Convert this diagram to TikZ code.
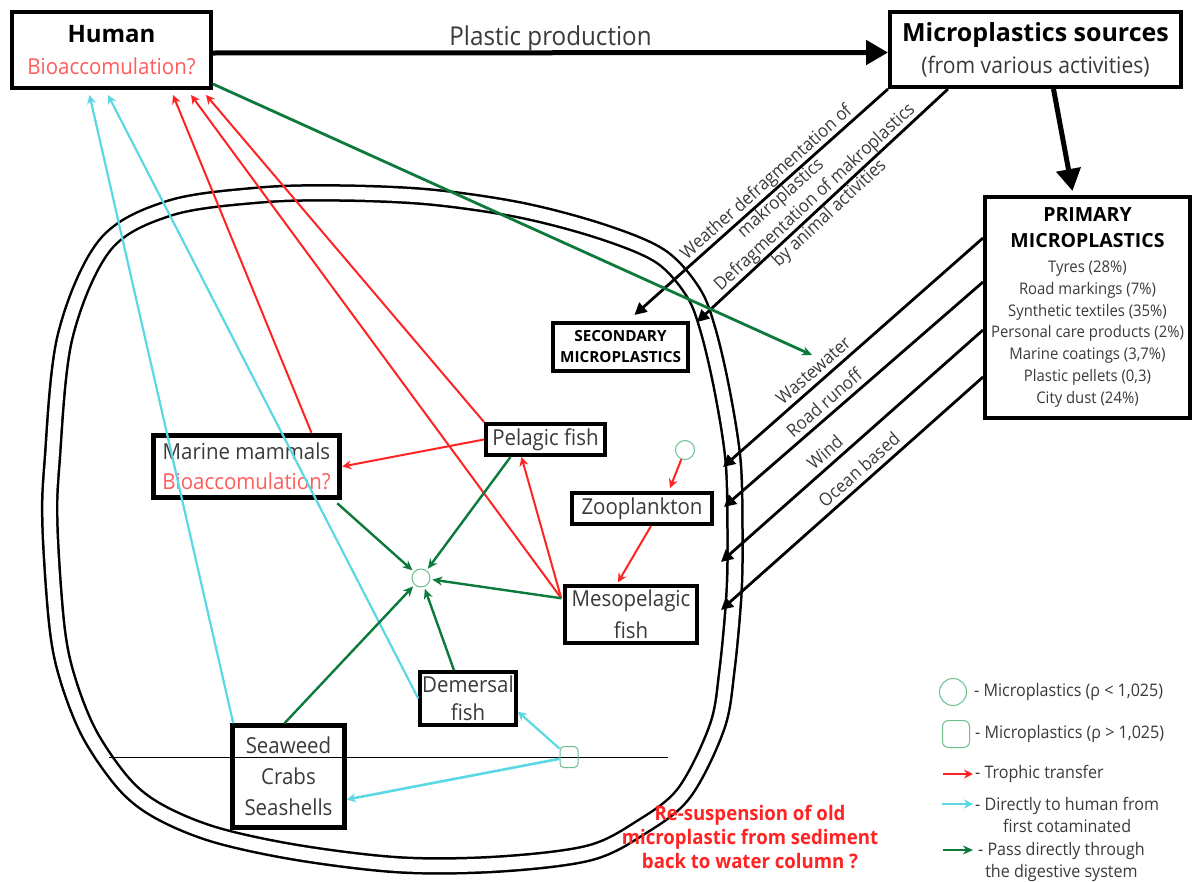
\documentclass[tikz,border=0pt]{standalone}
\usepackage{fontspec}
\setmainfont{Open Sans}
\newfontfamily\lightfont[FakeStretch=0.93]{Open Sans}
\usepackage{tikz}
\usetikzlibrary{arrows.meta}
\usetikzlibrary{positioning}
\usetikzlibrary{calc}

\definecolor{txtgray}{HTML}{3A3A3A}
\definecolor{biored}{HTML}{FF5C5C}
\definecolor{troph}{HTML}{FF2424}
\definecolor{direct}{HTML}{5CD8E5}
\definecolor{digest}{HTML}{0C7A3A}
\definecolor{mpgreen}{HTML}{6DBE8F}

\tikzstyle{mainbox} = [draw, line width=4pt, align=center, inner sep=0pt]
\tikzstyle{seabox} = [draw, line width=4pt, align=center, inner sep=0pt, text=txtgray, font=\lightfont\fontsize{22}{30}\selectfont]
\tikzstyle{bigarrow} = [line width=5pt, -{Triangle[length=22pt,width=24pt]}]
\tikzstyle{srcarrow} = [line width=2.8pt, -{Triangle[length=12pt,width=12pt]}]
\tikzstyle{troparrow} = [troph, line width=2pt, -{Stealth[length=9pt,width=9pt]}]
\tikzstyle{humarrow} = [direct, line width=2.2pt, -{Stealth[length=9pt,width=9pt]}]
\tikzstyle{digarrow} = [digest, line width=2.4pt, -{Stealth[length=10pt,width=9pt]}]
\tikzstyle{slopelabel} = [sloped, text=txtgray, inner sep=1pt, font=\lightfont\fontsize{18}{21.5}\selectfont]
\tikzstyle{mpcircle} = [circle, draw=mpgreen, line width=1pt, inner sep=0pt]
\tikzstyle{mpoct} = [rectangle, draw=mpgreen, line width=1pt, inner sep=0pt]
\tikzstyle{legend} = [text=txtgray, inner sep=1pt, font=\lightfont\fontsize{17.3}{22}\selectfont]

\begin{document}
\begin{tikzpicture}[x=1pt,y=-1pt]

	\path[use as bounding box, fill=white] (0,0) rectangle (1194,881);

	% Sea
	\draw[line width=2.5pt, double, double distance=12.5pt] plot[smooth cycle, tension=0.55] coordinates {
		(50,527) (52,463) (65,337) (105,245) (170,208) (260,195) (340,193) (430,197)
		(520,210) (600,231) (660,256) (693,292) (708,330) (722,390) (733,460) (735,530)
		(734,593) (727,670) (717,727) (684,793) (640,828) (589,853) (500,864) (402,865)
		(300,853) (216,835) (160,812) (125,785) (90,735) (68,680) (57,627)};
	\coordinate (sed1) at (109,757);
	\coordinate (sed2) at (668,757);
	\draw[line width=1pt] (sed1) -- (sed2);

	% Top boxes
	\node[mainbox, minimum width=199pt, minimum height=76pt, font=\fontsize{24}{32}\selectfont] (human) at (111.5,50)
	{\textbf{Human}\\{\lightfont\fontsize{22}{32}\selectfont\color{biored}Bioaccomulation?}};
	\node[mainbox, minimum width=291pt, minimum height=75pt, font=\fontsize{25}{32}\selectfont] (sources) at (1035.5,49.5)
	{\textbf{Microplastics sources}\\{\lightfont\fontsize{22.7}{32}\selectfont\color{txtgray}(from various activities)}};
	\node[mainbox, minimum width=205pt, minimum height=221pt, text=txtgray, font=\lightfont\fontsize{16}{21.8}\selectfont] (primary) at (1087.5,307.5)
	{{\normalfont\bfseries\fontsize{19.5}{22}\selectfont\color{black}PRIMARY}\\[4pt]
	{\normalfont\bfseries\fontsize{19.5}{22}\selectfont\color{black}MICROPLASTICS}\\[3pt]
	Tyres (28\%)\\Road markings (7\%)\\Synthetic textiles (35\%)\\Personal care products (2\%)\\
	Marine coatings (3,7\%)\\Plastic pellets (0,3)\\City dust (24\%)};
	\node[mainbox, minimum width=135pt, minimum height=48pt, font=\bfseries\fontsize{15.3}{21}\selectfont] (secondary) at (620.5,347)
	{SECONDARY\\MICROPLASTICS};

	% Sea boxes
	\node[seabox, line width=5.5pt, minimum width=186pt, minimum height=62pt] (mammals) at (246.5,466.5)
	{Marine mammals\\{\color{biored}Bioaccomulation?}};
	\node[seabox, minimum width=119pt, minimum height=31pt] (pelagic) at (545.5,439.5) {Pelagic fish};
	\node[seabox, minimum width=140pt, minimum height=31pt] (zoo) at (642,508.5) {Zooplankton};
	\node[seabox, line width=3.5pt, minimum width=132pt, minimum height=57pt, font=\lightfont\fontsize{22}{32}\selectfont] (meso) at (631,614.5)
	{Mesopelagic\\fish};
	\node[seabox, line width=3.5pt, minimum width=96pt, minimum height=53pt, font=\lightfont\fontsize{22}{28}\selectfont] (demersal) at (468,698.5)
	{Demersal\\fish};
	\node[seabox, line width=4.5pt, minimum width=112pt, minimum height=102pt, font=\lightfont\fontsize{22}{31}\selectfont] (seaweed) at (288.5,776.5)
	{Seaweed\\Crabs\\Seashells};

	% Microplastics
	\node[mpcircle, minimum size=18pt] (mp) at (421,578) {};
	\node[mpcircle, minimum size=19pt] (mptop) at (685,450) {};
	\node[mpoct, rounded corners=4pt, minimum width=18pt, minimum height=21pt] (oct) at (569,757) {};

	% Production
	\draw[bigarrow] ($(human.east)+(0,3)$) -- node[above=-2pt, text=txtgray, inner sep=1pt, font=\lightfont\fontsize{26}{30}\selectfont] (prodlabel) {Plastic production} ($(sources.west)+(0,3)$);
	\draw[bigarrow] ($(sources.south)+(18,0)$) -- ($(primary.north)+(-15,-4)$);

	% Secondary microplastics
	\coordinate (oc1) at (697,322);
	\draw[srcarrow] (sources.south west) -- node[slopelabel, pos=0.45, align=center] {Weather defragmentation of\\makroplastics} ($(secondary.north)+(14,-6)$);
	\draw[srcarrow] ($(sources.south west)+(60,0)$) -- node[slopelabel, pos=0.5, align=center] {Defragmentation of makroplastics\\by animal activities} (oc1);

	% Primary microplastics
	\coordinate (oc2) at (723,467);
	\coordinate (oc3) at (724,507);
	\coordinate (oc4) at (721,562);
	\coordinate (oc5) at (721,610);
	\draw[srcarrow] ($(primary.west)+(0,-69.5)$) -- node[slopelabel, above=4pt, pos=0.62] {Wastewater} (oc2);
	\draw[srcarrow] ($(primary.west)+(0,-25.5)$) -- node[slopelabel, above=4pt, pos=0.58] {Road runoff} (oc3);
	\draw[srcarrow] ($(primary.west)+(0,22.5)$) -- node[slopelabel, above=4pt, pos=0.57] {Wind} (oc4);
	\draw[srcarrow] ($(primary.west)+(0,69.5)$) -- node[slopelabel, above=4pt, pos=0.44] {Ocean based} (oc5);

	% Human
	\coordinate (wwtip) at (812,355);
	\coordinate (hc1) at ($(human.south west)+(79.5,5)$);
	\coordinate (hc2) at ($(human.south west)+(98,5)$);
	\coordinate (hr1) at ($(human.south west)+(163,5)$);
	\coordinate (hr2) at ($(human.south west)+(181,5)$);
	\coordinate (hr3) at ($(human.south west)+(196,5)$);
	\coordinate (mesoa) at ($(meso.north west)+(-2,14)$);
	\draw[digarrow, line width=2.8pt] ($(human.south east)+(0,-6)$) -- (wwtip);
	\draw[humarrow] ($(seaweed.north west)+(3,0)$) -- (hc1);
	\draw[humarrow] (demersal.west) -- (hc2);
	\draw[troparrow] ($(mammals.north)+(65,0)$) -- (hr1);
	\draw[troparrow] (mesoa) -- (hr2);
	\draw[troparrow] (pelagic.north west) -- (hr3);

	% Trophic transfer
	\draw[troparrow] (pelagic.west) -- (mammals.east);
	\draw[troparrow] (mesoa) -- ($(pelagic.south)+(-24,0)$);
	\draw[troparrow] (mptop) -- ($(zoo.north)+(28,-3)$);
	\draw[troparrow] ($(zoo.south)+(9,0)$) -- ($(meso.north)+(-13,-2)$);

	% Digestive system
	\draw[digarrow, shorten >=2pt] ($(mammals.south east)+(-5,3)$) -- (mp);
	\draw[digarrow, shorten >=2pt] ($(pelagic.south)+(-35,0)$) -- (mp);
	\draw[digarrow, shorten >=2pt] (mesoa) -- (mp);
	\draw[digarrow, shorten >=2pt] ($(seaweed.north)+(-4,0)$) -- (mp);
	\draw[digarrow, shorten >=2pt] ($(demersal.north)+(-14,0)$) -- (mp);

	% Sediment
	\draw[humarrow] (oct) -- ($(demersal.east)+(0,13)$);
	\draw[humarrow, line width=2.6pt] (oct) -- ($(seaweed.east)+(0,23)$);
	\node[text=troph, align=center, font=\lightfont\bfseries\fontsize{20}{24}\selectfont] (resusp) at (750,837)
	{Re-suspension of old\\microplastic from sediment\\back to water column ?};

	% Legend
	\node[mpcircle, minimum size=27pt] (lgcirc) at (953,692) {};
	\node[legend, right=6pt of lgcirc] (lgcirctxt) {- Microplastics (ρ < 1,025)};
	\node[mpoct, rounded corners=6pt, minimum size=27pt] (lgoct) at (956,734) {};
	\node[legend, right=4pt of lgoct] (lgocttxt) {- Microplastics (ρ > 1,025)};
	\coordinate (lgr1) at (943,774);
	\coordinate (lgr2) at (973,774);
	\draw[troparrow] (lgr1) -- (lgr2);
	\node[legend, right=1pt of lgr2] (lgrtxt) {- Trophic transfer};
	\coordinate (lgc1) at (942,804);
	\coordinate (lgc2) at (973,804);
	\draw[humarrow] (lgc1) -- (lgc2);
	\node[legend, anchor=north west, align=center] (lgctxt) at ($(lgc2)+(1,-8)$) {- Directly to human from\\first cotaminated};
	\coordinate (lgg1) at (943,850);
	\coordinate (lgg2) at (973,850);
	\draw[digarrow] (lgg1) -- (lgg2);
	\node[legend, anchor=north west, align=center] (lggtxt) at ($(lgg2)+(4,-9)$) {- Pass directly through\\the digestive system};

\end{tikzpicture}
\end{document}
